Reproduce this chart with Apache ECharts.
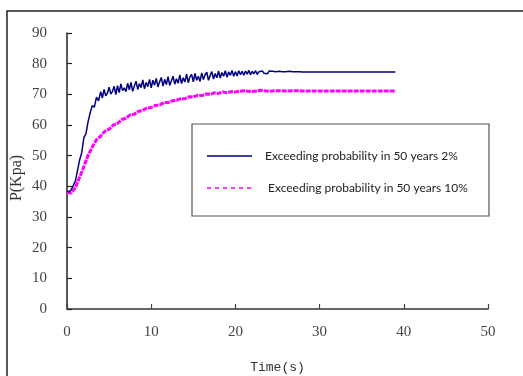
<!DOCTYPE html>
<html>
<head>
<meta charset="utf-8">
<script src="https://cdn.jsdelivr.net/npm/echarts@6/dist/echarts.min.js"></script>
<style>html,body{margin:0;padding:0;background:#fff}#c{width:523px;height:376px}</style>
</head>
<body>
<div id="c"></div>
<script>
var seriesNames = ['Exceeding probability in 50 years 2%', 'Exceeding probability in 50 years 10%'];
var xTicks = [0, 10, 20, 30, 40, 50];
var yTicks = [0, 10, 20, 30, 40, 50, 60, 70, 80, 90];

var blueTimes = [0,0.25,0.5,0.75,1,1.25,1.5,1.75,2,2.25,2.5,2.75,3,3.25,3.5,3.75,
4,4.2,4.4,4.6,4.8, 5,5.2,5.4,5.6,5.8, 6,6.2,6.4,6.6,6.8, 7,7.2,7.4,7.6,7.8,
8,8.2,8.4,8.6,8.8, 9,9.2,9.4,9.6,9.8, 10,10.2,10.4,10.6,10.8, 11,11.2,11.4,11.6,11.8,
12,12.2,12.4,12.6,12.8, 13,13.2,13.4,13.6,13.8, 14,14.2,14.4,14.6,14.8, 15,15.2,15.4,15.6,15.8,
16,16.2,16.4,16.6,16.8, 17,17.2,17.4,17.6,17.8, 18,18.2,18.4,18.6,18.8, 19,19.2,19.4,19.6,19.8,
20,20.2,20.4,20.6,20.8, 21,21.2,21.4,21.6,21.8, 22,22.2,22.4,22.6,22.8, 23,23.2,23.4,23.6,23.8,
24,24.2,24.4,24.6,24.8, 25,25.2,25.4,25.6,25.8, 26,26.2,26.4,26.6,26.8, 27,27.2,27.4,27.6,27.8,
28,39];
var blueValues = [38.5,38.2,38.9,40.3,41.8,45.2,48.6,51.0,55.8,57.2,61.0,64.0,66.3,65.8,69.1,67.9,
70.9,68.8,71.6,69.5,70.4, 72.3,70.1,71.0,72.6,69.9, 72.8,70.6,73.4,71.2,72.1, 70.9,73.6,71.5,73.9,71.0,
72.7,74.3,71.6,73.5,72.2, 74.7,71.8,73.9,72.5,74.9, 72.1,74.6,73.0,75.2,72.4, 74.1,75.5,72.7,74.9,73.2,
75.8,72.9,74.4,75.9,73.3, 75.1,73.6,76.3,73.5,75.4, 74.0,76.6,73.8,75.7,76.5, 74.1,76.8,74.6,75.9,74.2,
77.0,74.8,76.4,77.2,74.6, 76.1,77.4,75.0,76.8,75.4, 77.6,75.3,77.1,75.9,77.7, 75.6,77.3,76.2,77.8,75.9,
77.4,76.0,77.7,76.4,77.5, 76.2,77.6,76.6,77.8,76.4, 77.5,76.7,77.7,76.5,77.4, 76.8,77.6,76.9,77.5,76.7,
77.6,77.0,77.5,76.9,77.4, 77.0,77.5,77.1,77.4,77.0, 77.4,77.1,77.5,77.2,77.4, 77.2,77.4,77.2,77.4,77.3,
77.3,77.3];

var pinkTimes = [0,0.5,1,1.5,2,2.5,3,3.5,4,4.5,5,5.5,6,6.5,7,7.5,8,8.5,9,9.5,
10,10.5,11,11.5,12,12.5,13,13.5,14,14.5,15,15.5,16,16.5,17,17.5,18,18.5,19,19.5,
20,21,22,23,24,25,26,27,28,29,30,39];
var pinkValues = [38.0,37.8,39.6,43.0,46.4,50.1,52.8,55.2,56.4,58.0,58.6,60.0,60.5,61.8,62.2,63.3,63.5,64.5,64.7,65.6,
65.7,66.4,66.5,67.3,67.3,67.9,68.0,68.6,68.6,69.2,69.1,69.7,69.6,70.1,70.0,70.5,70.3,70.8,70.5,70.9,
70.8,71.2,70.9,71.3,71.0,71.2,71.1,71.2,71.1,71.1,71.1,71.1];

function pairs(ts, vs){ var out=[]; for (var i=0;i<ts.length;i++) out.push([ts[i], vs[i]]); return out; }

var chart = echarts.init(document.getElementById('c'));
var axisFont = {fontFamily:'Liberation Serif', fontSize:15, color:'#444'};
var legendFont = '12px Lato';
chart.setOption({
  animation:false,
  backgroundColor:'#fff',
  grid:{left:67, top:33, right:35, bottom:67, containLabel:false, outerBoundsMode:'none'},
  xAxis:{type:'value', min:0, max:50, interval:10,
    name:'Time(s)', nameLocation:'middle', nameGap:52, nameMoveOverlap:false,
    nameTextStyle:{fontFamily:'Liberation Mono', fontSize:13, color:'#333'},
    axisLine:{onZero:false, lineStyle:{color:'#666', width:2}},
    axisTick:{inside:true, length:5, lineStyle:{color:'#444', width:1.2}},
    axisLabel:Object.assign({margin:16, formatter:function(v){return xTicks.indexOf(v)>=0?String(v):'';}}, axisFont),
    splitLine:{show:false}},
  yAxis:{type:'value', min:0, max:90, interval:10,
    name:'P(Kpa)', nameLocation:'middle', nameGap:42, nameRotate:90, nameMoveOverlap:false,
    nameTextStyle:{fontFamily:'Liberation Serif', fontSize:16, color:'#333', padding:[0,14,0,0]},
    axisLine:{show:true, lineStyle:{color:'#222', width:1.5}},
    axisTick:{show:true, inside:true, length:5, lineStyle:{color:'#222', width:1.2}},
    axisLabel:Object.assign({margin:20, formatter:function(v){return yTicks.indexOf(v)>=0?String(v):'';}}, axisFont),
    splitLine:{show:false}},
  graphic:[
    {type:'rect', shape:{x:7, y:11, width:540, height:400}, style:{fill:'none', stroke:'#222', lineWidth:1.5}, silent:true, z:-1},
    {type:'group', z:10, children:[
      {type:'rect', shape:{x:192, y:124, width:297, height:92}, style:{fill:'#fff', stroke:'#555', lineWidth:1.2}},
      {type:'line', shape:{x1:207, y1:156, x2:252, y2:156}, style:{stroke:'#000080', lineWidth:1.5}},
      {type:'text', x:265, y:156, style:{text:seriesNames[0], font:legendFont, fill:'#222', textVerticalAlign:'middle', verticalAlign:'middle'}},
      {type:'line', shape:{x1:207, y1:188, x2:252, y2:188}, style:{stroke:'#ff00ff', lineWidth:1.5, lineDash:[4,4]}},
      {type:'text', x:268, y:188, style:{text:seriesNames[1], font:legendFont, fill:'#222', textVerticalAlign:'middle', verticalAlign:'middle'}}
    ]}
  ],
  series:[
    {name:seriesNames[0], type:'line', symbol:'none', data:pairs(blueTimes, blueValues),
     lineStyle:{color:'#000080', width:1.5}, itemStyle:{color:'#000080'}, z:3},
    {name:seriesNames[1], type:'line', symbol:'none', data:pairs(pinkTimes, pinkValues),
     lineStyle:{color:'#ff00ff', width:3, type:[5,1]}, itemStyle:{color:'#ff00ff'}, z:2}
  ]
});
</script>
</body>
</html>
